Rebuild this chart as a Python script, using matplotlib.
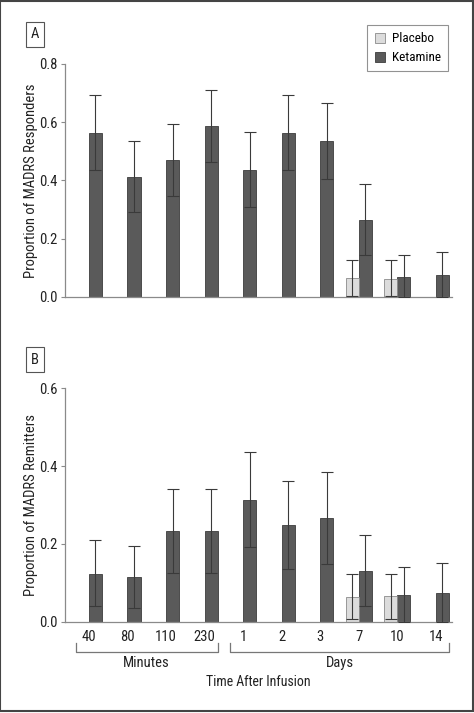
import matplotlib
matplotlib.use("Agg")
import matplotlib.pyplot as plt
from matplotlib.patches import Rectangle, Patch
import numpy as np

plt.rcParams['font.family'] = ['Roboto Condensed', 'Archivo Narrow', 'PT Sans Narrow', 'Liberation Sans']

time_labels = ["40", "80", "110", "230", "1", "2", "3", "7", "10", "14"]
minutes_idx = [0, 3]
days_idx = [4, 9]

# Panel A: responders
ket_resp = [0.563, 0.411, 0.470, 0.586, 0.437, 0.563, 0.535, 0.265, 0.070, 0.075]
ket_resp_hi = [0.693, 0.535, 0.595, 0.712, 0.566, 0.693, 0.666, 0.387, 0.143, 0.154]
ket_resp_lo = [0.435, 0.290, 0.346, 0.463, 0.309, 0.435, 0.405, 0.144, 0.0, 0.0]
pla_resp_idx = [7, 8]
pla_resp = [0.065, 0.062]
pla_resp_hi = [0.127, 0.127]
pla_resp_lo = [0.005, 0.003]

# Panel B: remitters
ket_rem = [0.123, 0.115, 0.233, 0.233, 0.312, 0.248, 0.267, 0.131, 0.069, 0.074]
ket_rem_hi = [0.209, 0.195, 0.342, 0.341, 0.435, 0.362, 0.384, 0.222, 0.141, 0.150]
ket_rem_lo = [0.039, 0.034, 0.124, 0.124, 0.191, 0.135, 0.147, 0.039, 0.0, 0.0]
pla_rem_idx = [7, 8]
pla_rem = [0.063, 0.066]
pla_rem_hi = [0.122, 0.122]
pla_rem_lo = [0.008, 0.008]

KET = '#5a5a5a'
KET_EDGE = '#3c3c3c'
PLA = '#dcdcdc'
PLA_EDGE = '#8a8a8a'
AX = '#8a8a8a'
TXT = '#222222'
W = 0.34

fig = plt.figure(figsize=(4.74, 7.13), dpi=100)
axA = fig.add_axes([0.1371, 0.5835, 0.8165, 0.3268])
axB = fig.add_axes([0.1371, 0.1281, 0.8165, 0.3273])


def draw(ax, ket, ket_hi, ket_lo, pidx, pla, pla_hi, pla_lo, ymax, ylabel):
    x = np.arange(len(time_labels))
    ket = np.array(ket)
    ax.bar(x + W / 2, ket, width=W, color=KET, edgecolor=KET_EDGE, linewidth=0.6, zorder=2)
    err = [ket - np.array(ket_lo), np.array(ket_hi) - ket]
    ax.errorbar(x + W / 2, ket, yerr=err, fmt='none', ecolor='#3a3a3a', elinewidth=0.8,
                capsize=4.3, capthick=0.8, zorder=3)
    px = np.array(pidx)
    pla = np.array(pla)
    ax.bar(px - W / 2, pla, width=W, color=PLA, edgecolor=PLA_EDGE, linewidth=0.6, zorder=2)
    perr = [pla - np.array(pla_lo), np.array(pla_hi) - pla]
    ax.errorbar(px - W / 2, pla, yerr=perr, fmt='none', ecolor='#3a3a3a', elinewidth=0.8,
                capsize=4.3, capthick=0.8, zorder=3)
    ax.set_xlim(-0.62, 9.42)
    ax.set_ylim(0, ymax)
    ticks = np.arange(0, ymax + 0.001, 0.2)
    ax.set_yticks(ticks)
    ax.set_yticklabels([f"{v:.1f}" for v in ticks])
    for s in ['top', 'right']:
        ax.spines[s].set_visible(False)
    for s in ['left', 'bottom']:
        ax.spines[s].set_color(AX)
        ax.spines[s].set_linewidth(0.9)
    ax.tick_params(axis='y', direction='out', length=3, width=0.8, color=AX,
                   labelsize=10.5, labelcolor=TXT, pad=2.5)
    ax.set_ylabel(ylabel, fontsize=10.5, color=TXT)
    ax.yaxis.set_label_coords(-0.07, 0.5)


draw(axA, ket_resp, ket_resp_hi, ket_resp_lo, pla_resp_idx, pla_resp, pla_resp_hi, pla_resp_lo,
     0.8, "Proportion of MADRS Responders")
draw(axB, ket_rem, ket_rem_hi, ket_rem_lo, pla_rem_idx, pla_rem, pla_rem_hi, pla_rem_lo,
     0.6, "Proportion of MADRS Remitters")

axA.set_xticks([])
axB.set_xticks(np.arange(len(time_labels)))
axB.set_xticklabels(time_labels)
axB.tick_params(axis='x', length=0, labelsize=10.5, labelcolor=TXT, pad=6)

# brackets
trans = axB.get_xaxis_transform()
for (a, b), name in [(minutes_idx, "Minutes"), (days_idx, "Days")]:
    x0, x1 = a - W, b + W
    axB.plot([x0, x0, x1, x1], [-0.09, -0.1285, -0.1285, -0.09], color='#777777', lw=0.9,
             transform=trans, clip_on=False)
    axB.text((x0 + x1) / 2, -0.177, name, transform=trans, ha='center', va='center',
             fontsize=10.5, color=TXT)
axB.text(0.5, -0.259, "Time After Infusion", transform=axB.transAxes, ha='center', va='center',
         fontsize=10, color=TXT)

# panel labels
for lab, yc in [("A", 1 - 34.5 / 713), ("B", 1 - 359.5 / 713)]:
    fig.text(35 / 474, yc, lab, ha='center', va='center', fontsize=10.5, color=TXT,
             bbox=dict(boxstyle='square,pad=0.35', fc='white', ec='#555555', lw=0.8))

# legend
handles = [Patch(facecolor=PLA, edgecolor=PLA_EDGE, lw=0.6, label='Placebo'),
           Patch(facecolor=KET, edgecolor=KET_EDGE, lw=0.6, label='Ketamine')]
leg = fig.legend(handles=handles, loc='upper right', bbox_to_anchor=(448 / 474, 1 - 25 / 713),
                 fontsize=9.5, frameon=True, fancybox=False, edgecolor='#777777',
                 handlelength=0.8, handleheight=0.8, handletextpad=0.5, borderpad=0.55,
                 labelspacing=0.45, borderaxespad=0)
leg.get_frame().set_linewidth(0.8)

# outer border
fig.patches.append(Rectangle((0.001, 0.003), 0.996, 0.996, transform=fig.transFigure,
                             fill=False, ec='#444444', lw=1.5))

fig.savefig("out.png", dpi=100)
